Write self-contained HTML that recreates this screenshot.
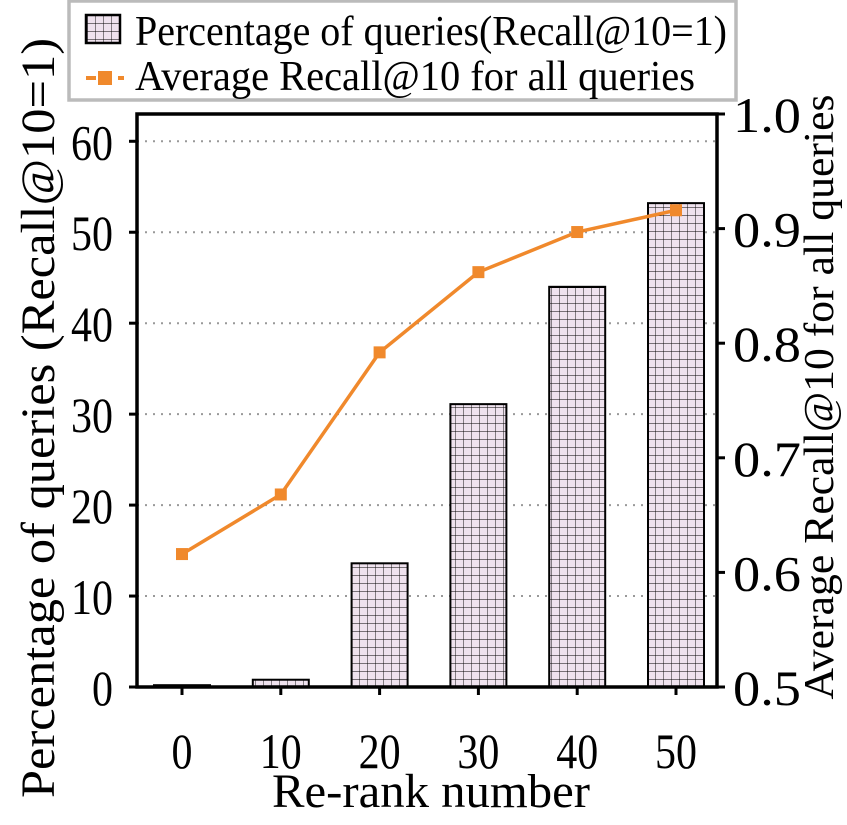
<!DOCTYPE html>
<html><head><meta charset="utf-8"><style>
body{margin:0;background:#fff}
svg text{font-family:"Liberation Serif",serif;fill:#000}
</style></head><body>
<svg width="847" height="820">
<defs><pattern id="grid" width="8" height="8" patternUnits="userSpaceOnUse">
<rect width="8" height="8" fill="#efe2ee"/><path d="M8 0V8M0 8H8" stroke="#000" stroke-width="0.9" fill="none"/></pattern></defs>
<g id="g"></g>
</svg>
<script>
const categories=[0,10,20,30,40,50];
const barValues=[0.2,0.8,13.6,31.1,44.0,53.2];
const lineValues=[0.616,0.668,0.792,0.862,0.897,0.916];
const leftTicks=[0,10,20,30,40,50,60];
const rightTicks=["0.5","0.6","0.7","0.8","0.9","1.0"];
const NS="http://www.w3.org/2000/svg",g=document.getElementById('g');
const L=137,R=717,T=114,B=687;
const yL=v=>B-(v/63)*(B-T);
const yR=v=>B-((v-0.5)/0.5)*(B-T);
const xC=i=>182+i*98.8;
function mk(t,a,txt){const e=document.createElementNS(NS,t);for(const k in a)e.setAttribute(k,a[k]);if(txt!==undefined)e.textContent=txt;g.appendChild(e);return e;}
function fit(e,w){e.setAttribute('textLength',w);e.setAttribute('lengthAdjust','spacingAndGlyphs');}
leftTicks.forEach(v=>{if(v>0){const l=mk('line',{x1:L,x2:R,y1:yL(v),y2:yL(v),stroke:'#999','stroke-width':2,'stroke-dasharray':'2,6'});

}
const s=String(v);
const t=mk('text',{x:L-24,y:yL(v)+18,'font-size':50,'text-anchor':'end'},s);fit(t,s.length*21);


mk('line',{x1:L-8,x2:L,y1:yL(v),y2:yL(v),stroke:'#000','stroke-width':3});});
rightTicks.forEach(s=>{const v=+s;const t=mk('text',{x:R+16,y:yR(v)+18,'font-size':50},s);fit(t,68);


mk('line',{x1:R,x2:R+8,y1:yR(v),y2:yR(v),stroke:'#000','stroke-width':3});});
barValues.forEach((v,i)=>{const r=mk('rect',{x:xC(i)-28,y:yL(v),width:56,height:B-yL(v),fill:'url(#grid)',stroke:'#000','stroke-width':2});


const s=String(categories[i]);
const t=mk('text',{x:xC(i),y:B+81,'font-size':50,'text-anchor':'middle'},s);fit(t,s.length*21);


mk('line',{x1:xC(i),x2:xC(i),y1:B,y2:B+8,stroke:'#000','stroke-width':3});});
const pl=mk('polyline',{points:lineValues.map((v,i)=>xC(i)+','+yR(v)).join(' '),fill:'none',stroke:'#f0892c','stroke-width':3.5});


lineValues.forEach((v,i)=>{const p=mk('rect',{x:xC(i)-6,y:yR(v)-6,width:12,height:12,fill:'#f0892c'});

});
const fr=mk('rect',{x:L,y:T,width:R-L,height:B-T,fill:'none',stroke:'#000','stroke-width':3.5});


const xt=mk('text',{x:431,y:807,'font-size':48,'text-anchor':'middle'},'Re-rank number');fit(xt,318);


const yt=mk('text',{x:0,y:0,'font-size':48,'text-anchor':'middle',transform:'translate(54,418) rotate(-90)'},'Percentage of queries (Recall@10=1)');fit(yt,760);


const yt2=mk('text',{x:0,y:0,'font-size':42,'text-anchor':'middle',transform:'translate(833,397) rotate(-90)'},'Average Recall@10 for all queries');fit(yt2,605);


const lg=mk('rect',{x:69,y:1,width:667,height:99,fill:'#fff',stroke:'#bbb','stroke-width':3.5});


const s1=mk('rect',{x:86,y:15,width:34,height:28,fill:'url(#grid)',stroke:'#000','stroke-width':2.5});


const l1=mk('text',{x:135,y:45,'font-size':42},'Percentage of queries(Recall@10=1)');fit(l1,592);


mk('line',{x1:86,x2:124,y1:78,y2:78,stroke:'#f0892c','stroke-width':4,'stroke-dasharray':'10,6'});
mk('rect',{x:98,y:71,width:14,height:14,fill:'#f0892c'});
const l2=mk('text',{x:135,y:90,'font-size':42},'Average Recall@10 for all queries');fit(l2,560);


</script>
</body></html>
